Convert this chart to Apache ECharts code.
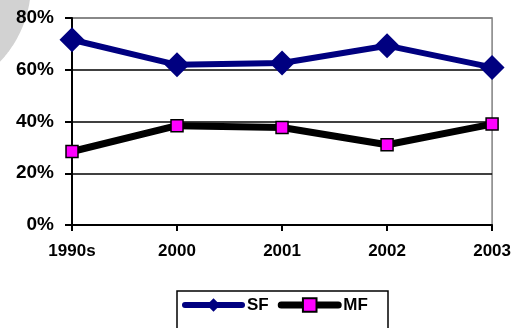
<!DOCTYPE html>
<html>
<head>
<meta charset="utf-8">
<script src="https://cdn.jsdelivr.net/npm/echarts@6/dist/echarts.min.js"></script>
<style>
html,body{margin:0;padding:0;background:#fff;}
#chart{width:514px;height:328px;}
</style>
</head>
<body>
<div id="chart"></div>
<script>
var categories = ['1990s', '2000', '2001', '2002', '2003'];
var sfValues = [71.6, 61.9, 62.6, 69.3, 60.9];
var mfValues = [28.4, 38.4, 37.7, 31.0, 39.0];
var seriesNames = ['SF', 'MF'];

// decorative grey arc in the top-left corner
var arcPts = [[0, 0]];
for (var i = 0; i <= 40; i++) {
  var a = 0.142 + (0.76 - 0.142) * i / 40;
  arcPts.push([-82 + 113 * Math.cos(a), -16 + 113 * Math.sin(a)]);
}

var chart = echarts.init(document.getElementById('chart'), null, {renderer: 'canvas'});
var font = 'Liberation Sans, Arial, sans-serif';
chart.setOption({
  animation: false,
  backgroundColor: '#ffffff',
  graphic: [
    {type: 'polygon', z: -10, shape: {points: arcPts}, style: {fill: '#d2d2d2'}},
    {type: 'rect', z: 10, shape: {x: 177, y: 291, width: 211, height: 50}, style: {fill: 'none', stroke: '#000', lineWidth: 1.5}}
  ],
  grid: {left: 72, right: 21, top: 18, bottom: 103, show: true, borderColor: '#808080', borderWidth: 1.5, backgroundColor: 'transparent'},
  legend: {
    left: 177, top: 291, padding: [5.5, 0, 0, 5],
    itemWidth: 57, itemHeight: 17, itemGap: 9,
    data: [
      {name: seriesNames[0], lineStyle: {width: 6, cap: 'round', color: '#000080'}},
      {name: seriesNames[1], lineStyle: {width: 7, cap: 'round', color: '#000'}}
    ],
    textStyle: {fontFamily: font, fontWeight: 'bold', fontSize: 17, color: '#000'}
  },
  xAxis: {
    type: 'category', data: categories, boundaryGap: false,
    axisLine: {lineStyle: {color: '#000', width: 2}},
    axisTick: {show: true, length: 6, lineStyle: {color: '#000', width: 2}},
    axisLabel: {fontFamily: font, fontWeight: 'bold', fontSize: 17, color: '#000', margin: 18},
    splitLine: {show: false}
  },
  yAxis: {
    type: 'value', min: 0, max: 80, interval: 20,
    axisLine: {show: true, lineStyle: {color: '#000', width: 2}},
    axisTick: {show: true, length: 7, lineStyle: {color: '#000', width: 2}},
    axisLabel: {formatter: '{value}%', fontFamily: font, fontWeight: 'bold', fontSize: 19, color: '#000', margin: 18},
    splitLine: {show: true, lineStyle: {color: ['#000', '#000', '#000', '#000', '#808080'], width: 1.5}}
  },
  series: [
    {
      name: seriesNames[0], type: 'line', data: sfValues,
      symbol: 'diamond', symbolSize: 25, z: 3,
      lineStyle: {color: '#000080', width: 6},
      itemStyle: {color: '#000080', borderWidth: 0}
    },
    {
      name: seriesNames[1], type: 'line', data: mfValues,
      symbol: 'rect', symbolSize: 12, z: 3,
      lineStyle: {color: '#000', width: 7},
      itemStyle: {color: '#ff00ff', borderColor: '#000', borderWidth: 1.5}
    }
  ]
});
</script>
</body>
</html>
